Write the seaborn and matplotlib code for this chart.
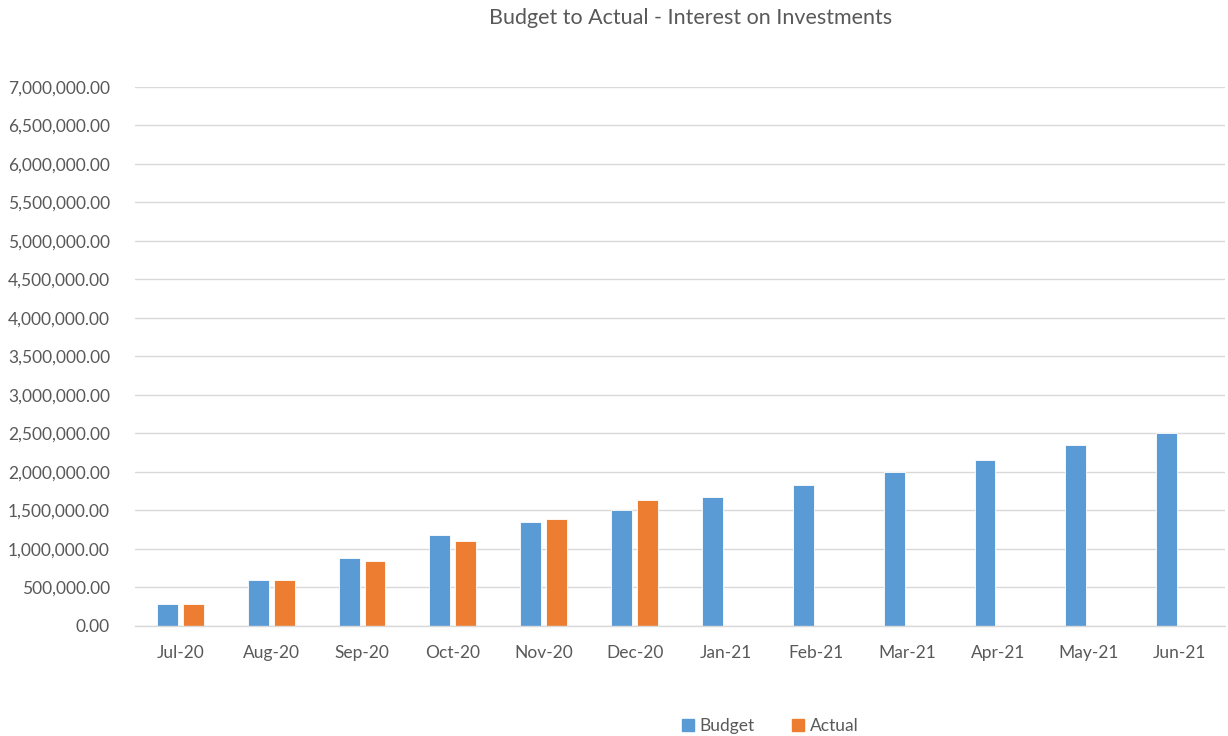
import matplotlib
matplotlib.use('Agg')

import numpy as np
import pandas as pd
import matplotlib.pyplot as plt
import seaborn as sns
from matplotlib.ticker import FuncFormatter, MultipleLocator
from matplotlib.patches import Patch

# ── 데이터 ──
months = ["Jul-20", "Aug-20", "Sep-20", "Oct-20", "Nov-20", "Dec-20",
          "Jan-21", "Feb-21", "Mar-21", "Apr-21", "May-21", "Jun-21"]
budget = [287000, 591000, 878000, 1183000, 1348000, 1509000,
          1671000, 1832000, 1997000, 2157000, 2344000, 2504000]
actual = [287000, 591000, 839000, 1100000, 1387000, 1630000,
          np.nan, np.nan, np.nan, np.nan, np.nan, np.nan]

BLUE = "#5B9BD5"
ORANGE = "#ED7D31"
GRID = "#D9D9D9"
TXT = "#595959"

df = pd.DataFrame({"month": months * 2,
                   "series": ["Budget"] * 12 + ["Actual"] * 12,
                   "value": budget + actual})

sns.set_style("white")
plt.rcParams['font.family'] = ['Lato', 'DejaVu Sans']

fig = plt.figure(figsize=(12.28, 7.36), dpi=100)
ax = fig.add_axes([0.1099, 0.1495, 0.8877, 0.7323])

sns.barplot(data=df, x="month", y="value", hue="series",
            palette={"Budget": BLUE, "Actual": ORANGE}, saturation=1,
            width=0.57, gap=0.19, errorbar=None, ax=ax,
            edgecolor="white", linewidth=0.6, legend=False)

ax.set_ylim(0, 7000000)
ax.set_xlim(-0.5, 11.5)
ax.yaxis.set_major_locator(MultipleLocator(500000))
ax.yaxis.set_major_formatter(FuncFormatter(lambda v, p: f"{v:,.2f}"))
ax.grid(axis='y', color=GRID, linewidth=1)
ax.set_axisbelow(True)
for s in ["left", "right", "top"]:
    ax.spines[s].set_visible(False)
ax.spines["bottom"].set_color(GRID)
ax.spines["bottom"].set_linewidth(1)

ax.set_xlabel("")
ax.set_ylabel("")
ax.tick_params(axis='y', length=0, pad=18, labelsize=12.5, labelcolor=TXT)
ax.tick_params(axis='x', which='major', length=0, pad=14, labelsize=12.5, labelcolor=TXT)
ax.set_xticks(np.arange(-0.5, 12, 1), minor=True)
ax.tick_params(axis='x', which='minor', length=5, color=GRID, width=1)

fig.text(0.562, 0.975, "Budget to Actual - Interest on Investments",
         ha='center', va='center', fontsize=15.5, color=TXT)

handles = [Patch(color=BLUE, label="Budget"), Patch(color=ORANGE, label="Actual")]
fig.legend(handles=handles, loc='center', bbox_to_anchor=(0.627, 0.013),
           ncol=2, frameon=False, fontsize=12.5, labelcolor=TXT,
           handlelength=0.7, handleheight=0.7, handletextpad=0.3, columnspacing=2.2)

plt.savefig("out.png", dpi=100)
plt.close()
